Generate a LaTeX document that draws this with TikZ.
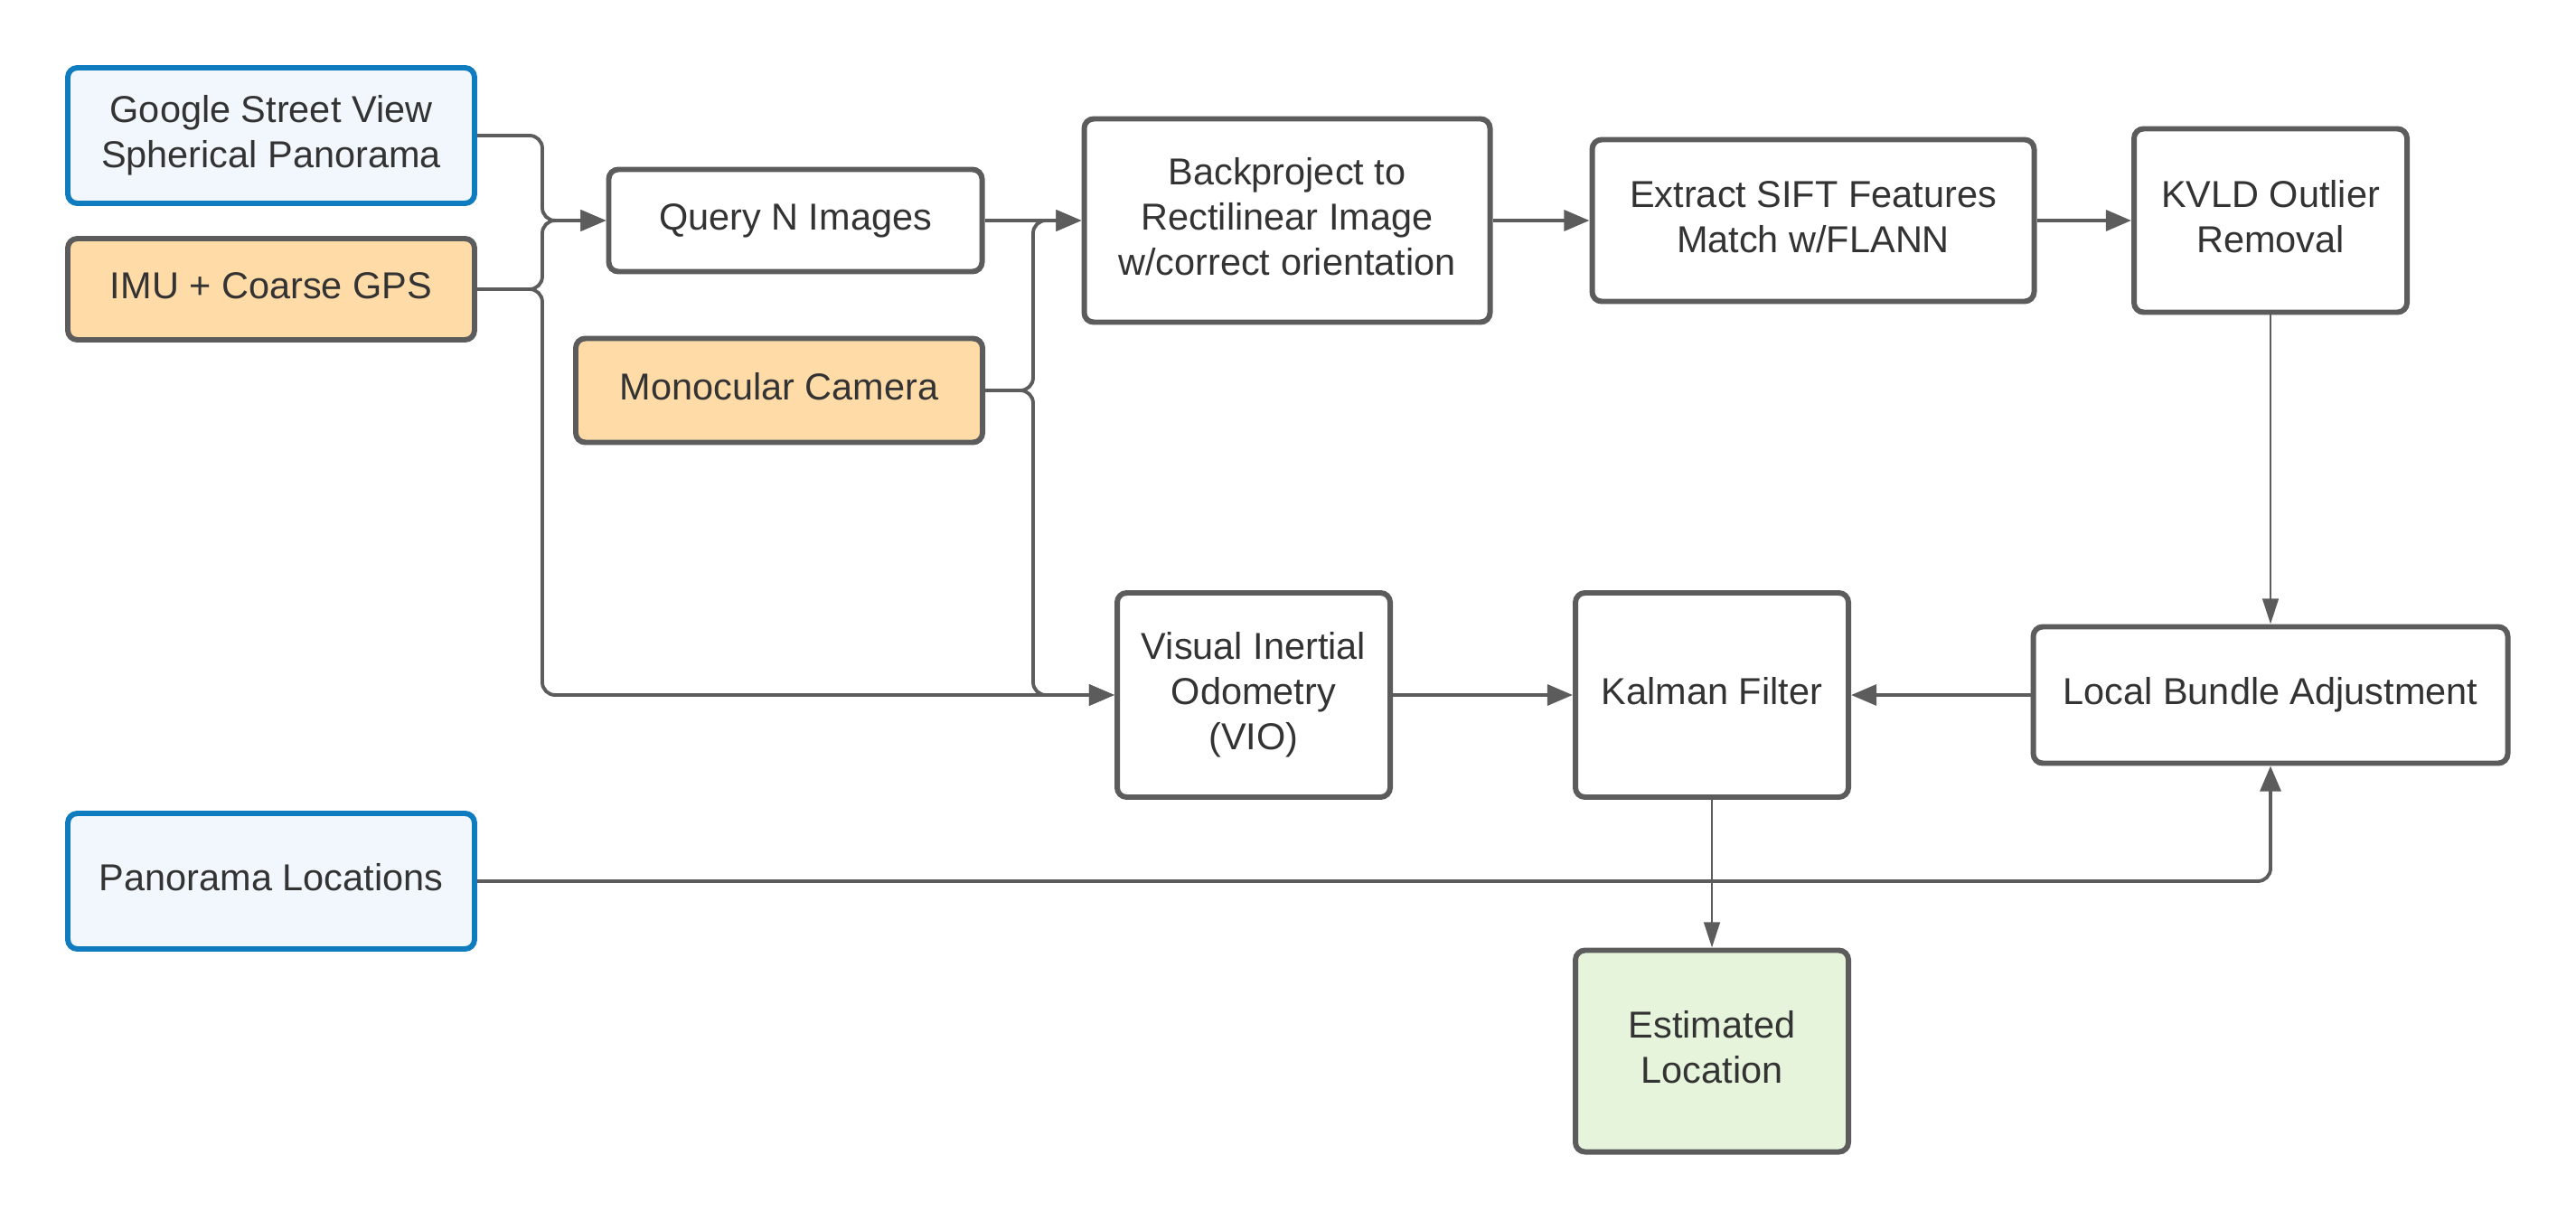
\documentclass[tikz,border=0pt]{standalone}
\usepackage{fontspec}
\setmainfont{Liberation Sans}
\usepackage{xcolor}
\usepackage{tikz}
\usetikzlibrary{arrows.meta, positioning, calc}
\definecolor{edge}{HTML}{5C5C5C}
\definecolor{ink}{HTML}{333333}
\definecolor{skyline}{HTML}{0E7CBF}
\definecolor{skyfill}{HTML}{F1F7FC}
\definecolor{sensor}{HTML}{FFDBA8}
\definecolor{result}{HTML}{E6F4DC}

\begin{document}
\begin{tikzpicture}[
    every node/.style={font=\fontsize{11.8}{14.2}\selectfont, text=ink, align=center, text depth=0.25em},
    box/.style={draw=edge, line width=1.7pt, rounded corners=3pt, fill=white, inner sep=2pt},
    source/.style={box, draw=skyline, fill=skyfill},
    sensorbox/.style={box, fill=sensor},
    outbox/.style={box, fill=result},
    conn/.style={draw=edge, line width=1.1pt, rounded corners=4pt, -{Triangle[length=8pt, width=6.5pt]}},
    thin conn/.style={conn, line width=0.8pt, -{Triangle[length=8pt, width=5pt]}}]
    \useasboundingbox (0,0) rectangle (28.5,13.5);
    % Inputs
    \node[source, minimum width=4.5cm, minimum height=1.5cm] (google) at (3.00,12.00) {Google Street View\\Spherical Panorama};
    \node[sensorbox, minimum width=4.5cm, minimum height=1.12cm] (imu) at (3.00,10.30) {IMU + Coarse GPS};
    \node[sensorbox, minimum width=4.5cm, minimum height=1.15cm] (mono) at (8.62,9.18) {Monocular Camera};
    \node[source, minimum width=4.5cm, minimum height=1.5cm] (pano) at (3.00,3.75) {Panorama Locations};
    % Image pipeline
    \node[box, minimum width=4.13cm, minimum height=1.13cm] (query) at (8.80,11.06) {Query N Images};
    \node[box, minimum width=4.49cm, minimum height=2.25cm] (back) at (14.24,11.06) {Backproject to\\Rectilinear Image\\w/correct orientation};
    \node[box, minimum width=4.89cm, minimum height=1.79cm] (sift) at (20.06,11.06) {Extract SIFT Features\\Match w/FLANN};
    \node[box, minimum width=3.02cm, minimum height=2.03cm] (kvld) at (25.12,11.06) {KVLD Outlier\\Removal};
    % Estimation
    \node[box, minimum width=3.02cm, minimum height=2.26cm] (vio) at (13.87,5.81) {Visual Inertial\\Odometry\\(VIO)};
    \node[box, minimum width=3.02cm, minimum height=2.26cm] (kalman) at (18.94,5.81) {Kalman Filter};
    \node[box, minimum width=5.25cm, minimum height=1.51cm] (lba) at (25.12,5.81) {Local Bundle Adjustment};
    \node[outbox, minimum width=3.02cm, minimum height=2.23cm] (est) at (18.94,1.87) {Estimated\\Location};
    % Junctions
    \coordinate (j1) at (6.00,11.06);
    \coordinate (j2) at (6.00,5.81);
    \coordinate (j3) at (11.43,11.06);
    \coordinate (j4) at (11.43,5.81);
    % Connectors
    \draw[conn] (google.east) -| (j1) -- (query.west);
    \draw[conn] (imu.east) -| (j1) -- (query.west);
    \draw[conn] (imu.east) -| (j2) -- (vio.west);
    \draw[conn] (query.east) -- (back.west);
    \draw[conn] (mono.east) -| (j3) -- (back.west);
    \draw[conn] (mono.east) -| (j4) -- (vio.west);
    \draw[conn] (back.east) -- (sift.west);
    \draw[conn] (sift.east) -- (kvld.west);
    \draw[thin conn] (kvld.south) -- (lba.north);
    \draw[conn] (vio.east) -- (kalman.west);
    \draw[conn] (lba.west) -- (kalman.east);
    \draw[thin conn] (kalman.south) -- (est.north);
    \draw[conn] (pano.east) -| (lba.south);
\end{tikzpicture}
\end{document}
